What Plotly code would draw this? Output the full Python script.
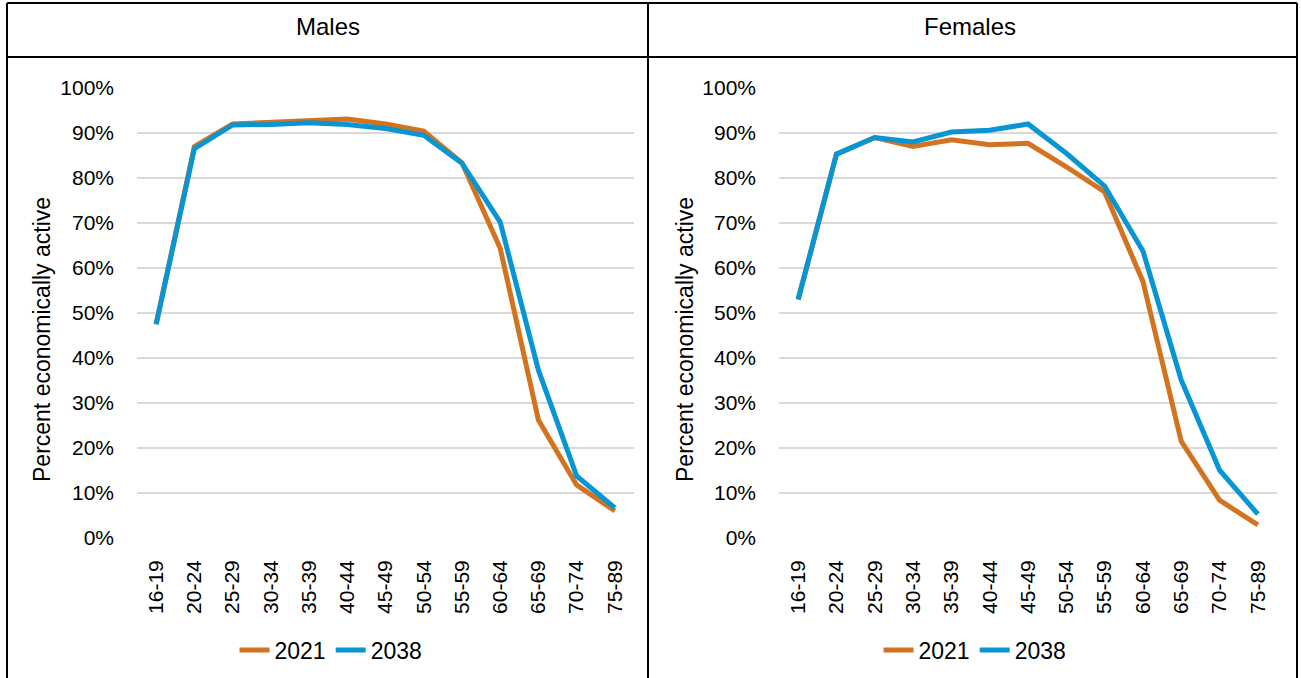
import plotly.graph_objects as go

age_groups = ["16-19", "20-24", "25-29", "30-34", "35-39", "40-44", "45-49",
              "50-54", "55-59", "60-64", "65-69", "70-74", "75-89"]

males_2021 = [47.5, 87.0, 92.0, 92.3, 92.8, 93.1, 92.0, 90.4, 83.4, 64.4, 26.2, 11.8, 6.0]
males_2038 = [47.5, 86.5, 91.8, 91.9, 92.3, 91.9, 91.0, 89.5, 83.3, 70.2, 37.3, 13.8, 6.7]

females_2021 = [53.0, 85.3, 89.0, 87.0, 88.5, 87.4, 87.7, 82.5, 76.9, 57.0, 21.5, 8.4, 2.9]
females_2038 = [53.0, 85.3, 89.0, 88.0, 90.2, 90.6, 92.0, 85.5, 78.2, 63.8, 35.1, 15.1, 5.3]

y_ticks = [0, 10, 20, 30, 40, 50, 60, 70, 80, 90, 100]
y_tick_labels = ["0%", "10%", "20%", "30%", "40%", "50%", "60%", "70%", "80%", "90%", "100%"]

years = ["2021", "2038"]
panels = ["Males", "Females"]

ORANGE = "#D4731F"
BLUE = "#0895D4"
GRID = "#D9D9D9"
W, H = 1301, 678
FONT = "Liberation Sans, Arial, sans-serif"

fig = go.Figure()

series = [
    ("x", "y", "legend", males_2021, males_2038),
    ("x2", "y2", "legend2", females_2021, females_2038),
]
for xa, ya, lg, s21, s38 in series:
    for name, vals, col in [(years[0], s21, ORANGE), (years[1], s38, BLUE)]:
        fig.add_trace(go.Scatter(
            x=age_groups, y=vals, name=name,
            mode="lines",
            line=dict(color=col, width=5),
            xaxis=xa, yaxis=ya, legend=lg,
        ))

# plot area positions (pixels)
left_px = [(137, 634), (779, 1277)]
y0_px, y1_px = 538, 88  # 0% and 100%

def xdom(a, b):
    return [a / W, b / W]

ydom = [(H - y0_px) / H, (H - y1_px) / H]

tick_font = dict(family=FONT, size=21, color="#000000")
legend_font = dict(family=FONT, size=23, color="#000000")

xaxis_style = dict(
    type="category",
    range=[-0.5, 12.5],
    showgrid=False, zeroline=False, showline=False,
    tickangle=-90,
    tickfont=tick_font,
    ticks="",
    ticklabelstandoff=17,
)
yaxis_style = dict(
    range=[0, 100],
    tickmode="array",
    tickvals=y_ticks,
    ticktext=y_tick_labels,
    showgrid=True, gridcolor=GRID, gridwidth=2,
    zeroline=False, showline=False,
    tickfont=tick_font,
    ticks="",
    ticklabelstandoff=22,
)

fig.update_layout(
    width=W, height=H,
    margin=dict(l=0, r=0, t=0, b=0, autoexpand=False),
    paper_bgcolor="white", plot_bgcolor="white",
    xaxis=dict(domain=xdom(*left_px[0]), anchor="y", **xaxis_style),
    yaxis=dict(domain=ydom, anchor="x", **yaxis_style),
    xaxis2=dict(domain=xdom(*left_px[1]), anchor="y2", **xaxis_style),
    yaxis2=dict(domain=ydom, anchor="x2", **yaxis_style),
    legend=dict(orientation="h", x=331 / W, xanchor="center",
                y=(H - 650) / H, yanchor="middle",
                font=legend_font, bgcolor="rgba(0,0,0,0)"),
    legend2=dict(orientation="h", x=975 / W, xanchor="center",
                 y=(H - 650) / H, yanchor="middle",
                 font=legend_font, bgcolor="rgba(0,0,0,0)"),
    showlegend=True,
)

# table borders
border = dict(color="black", width=2)
def px_line(x0, y0, x1, y1):
    fig.add_shape(type="line", xref="paper", yref="paper",
                  x0=x0 / W, x1=x1 / W, y0=1 - y0 / H, y1=1 - y1 / H,
                  line=border)

px_line(7, 3, 1297, 3)
px_line(7, 57, 1297, 57)
px_line(7, 3, 7, 678)
px_line(648, 3, 648, 678)
px_line(1297, 3, 1297, 678)

# header labels and y-axis titles
for label, cx, tx in [(panels[0], 328, 42), (panels[1], 970, 685)]:
    fig.add_annotation(xref="paper", yref="paper", x=cx / W, y=1 - 27 / H,
                       text=label, showarrow=False,
                       font=dict(family=FONT, size=24, color="#000000"),
                       xanchor="center", yanchor="middle")
    fig.add_annotation(xref="paper", yref="paper", x=tx / W, y=1 - 340 / H,
                       text="Percent economically active", textangle=-90,
                       showarrow=False,
                       font=dict(family=FONT, size=23, color="#000000"),
                       xanchor="center", yanchor="middle")

fig.write_html("out.html", config={"displayModeBar": False},
               post_script="document.body.style.margin='0';")
